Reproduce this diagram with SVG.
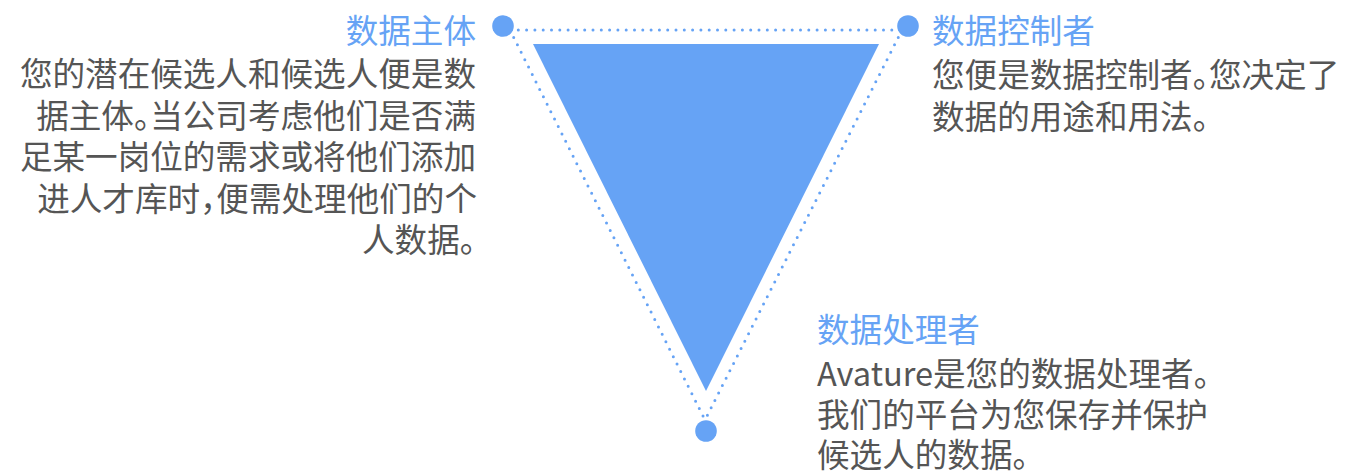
<svg xmlns="http://www.w3.org/2000/svg" width="1349" height="474" viewBox="0 0 1349 474">
<style>
.title{font-family:"Noto Sans CJK SC","Noto Sans",sans-serif;font-size:32.6px;fill:#66a3f5}
.body{font-family:"Noto Sans CJK SC","Noto Sans",sans-serif;font-size:32.6px;fill:#555555;font-feature-settings:"halt"}
.dot{fill:#66a3f5}
.dotted{stroke:#66a3f5;stroke-width:3;stroke-linecap:round;stroke-dasharray:0 8.3;fill:none}
</style>
<rect width="1349" height="474" fill="#ffffff"/>
<g id="connectors">
<line class="dotted" x1="510" y1="30" x2="902" y2="30"/>
<line class="dotted" x1="510" y1="30" x2="705" y2="420"/>
<line class="dotted" x1="902" y1="30" x2="705" y2="420"/>
</g>
<g id="funnel">
<polygon points="533,44 879,44 706,391" fill="#66a3f5"/>
</g>
<g id="data-subject">
<circle class="dot" cx="503" cy="26" r="10.8"/>
<text class="title" x="476" y="43" text-anchor="end">数据主体</text>
<text class="body" text-anchor="end"><tspan x="476" y="86">您的潜在候选人和候选人便是数</tspan><tspan x="476" y="127.5">据主体。当公司考虑他们是否满</tspan><tspan x="476" y="169">足某一岗位的需求或将他们添加</tspan><tspan x="477" y="210.5">进人才库时，便需处理他们的个</tspan><tspan x="476" y="252">人数据。</tspan></text>
</g>
<g id="data-controller">
<circle class="dot" cx="908" cy="26" r="10.8"/>
<text class="title" x="932" y="43">数据控制者</text>
<text class="body"><tspan x="932" y="87">您便是数据控制者。您决定了</tspan><tspan x="932" y="128.5">数据的用途和用法。</tspan></text>
</g>
<g id="data-processor">
<circle class="dot" cx="706" cy="431" r="10.8"/>
<text class="title" x="817" y="342">数据处理者</text>
<text class="body"><tspan x="817" y="385.5">Avature是您的数据处理者。</tspan><tspan x="817" y="427">我们的平台为您保存并保护</tspan><tspan x="817" y="467">候选人的数据。</tspan></text>
</g>
</svg>
